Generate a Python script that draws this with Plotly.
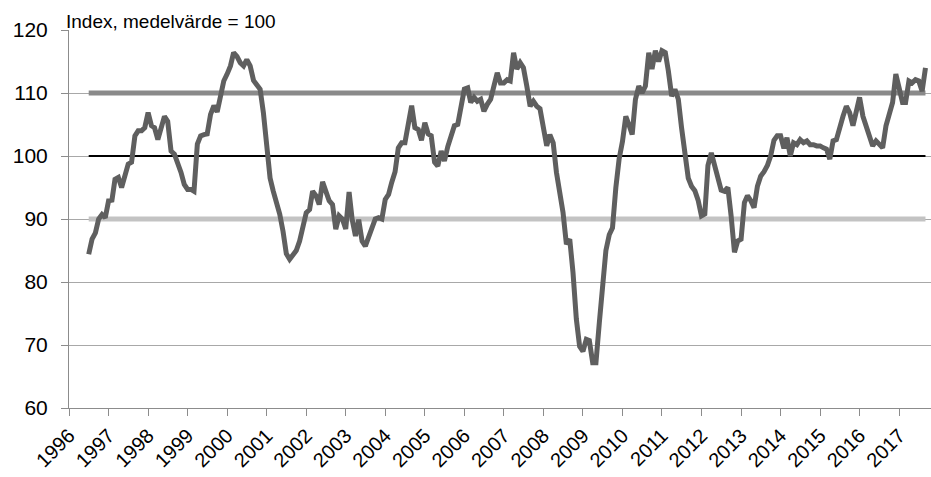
import pandas as pd
import plotly.graph_objects as go

start_month = "1996-07-01"

v1996 = [84.4, 86.8, 87.8, 90.0, 90.7, 90.2]
v1997 = [92.9, 93.0, 96.3, 96.6, 95.0, 97.0, 98.7, 99.0, 103.2, 104.0, 104.0, 104.5]
v1998 = [106.9, 104.8, 104.5, 102.6, 104.8, 106.3, 105.5, 100.8, 100.3, 99.0, 97.4, 95.5]
v1999 = [94.7, 94.7, 94.4, 101.9, 103.2, 103.4, 103.5, 106.6, 108.0, 107.0, 109.3, 111.9]
v2000 = [113.0, 114.3, 116.4, 115.8, 114.8, 114.3, 115.3, 114.3, 112.0, 111.4, 110.6, 106.9]
v2001 = [101.0, 96.5, 94.5, 92.6, 90.8, 88.0, 84.5, 83.6, 84.2, 85.0, 86.5, 89.0]
v2002 = [91.0, 91.5, 94.4, 93.7, 92.3, 95.9, 94.2, 92.9, 92.3, 88.4, 90.5, 90.0]
v2003 = [88.4, 94.3, 90.0, 87.3, 89.9, 86.5, 85.7, 87.2, 89.0, 90.0, 90.2, 90.0]
v2004 = [93.1, 93.9, 95.8, 97.5, 101.3, 102.1, 102.1, 105.3, 108.0, 104.5, 104.2, 102.5]
v2005 = [105.3, 103.5, 103.2, 99.0, 98.4, 100.8, 99.2, 101.5, 103.2, 104.8, 105.0, 108.0]
v2006 = [110.6, 110.8, 108.5, 109.3, 108.7, 109.0, 107.1, 108.2, 109.0, 111.1, 113.2, 111.6]
v2007 = [111.6, 112.1, 111.9, 116.4, 113.8, 114.8, 114.0, 111.1, 107.9, 108.7, 107.9, 107.5]
v2008 = [104.8, 101.6, 103.4, 102.1, 97.4, 94.2, 91.0, 86.0, 86.8, 81.5, 74.1, 69.8]
v2009 = [69.0, 70.9, 70.7, 67.2, 67.2, 73.5, 80.0, 85.0, 87.5, 88.6, 95.0, 99.5]
v2010 = [102.3, 106.3, 105.0, 103.4, 109.0, 111.1, 110.0, 111.1, 116.4, 113.8, 116.7, 115.0]
v2011 = [116.7, 116.4, 113.5, 109.5, 110.6, 109.0, 104.5, 100.0, 96.5, 95.2, 94.5, 93.0]
v2012 = [90.5, 90.8, 98.5, 100.5, 98.5, 96.0, 94.6, 94.4, 95.0, 90.5, 84.7, 86.5]
v2013 = [86.8, 92.6, 93.7, 92.9, 91.8, 95.2, 96.8, 97.5, 98.5, 100.0, 102.5, 103.2]
v2014 = [103.2, 101.2, 102.9, 100.0, 102.1, 101.8, 102.6, 102.1, 102.4, 101.8, 101.8, 101.6]
v2015 = [101.6, 101.3, 101.1, 99.5, 102.4, 102.6, 104.8, 106.3, 107.9, 106.9, 104.8, 107.4]
v2016 = [109.3, 106.3, 104.8, 103.2, 101.6, 102.4, 101.8, 101.3, 104.8, 106.9, 108.5, 113.0]
v2017 = [111.1, 108.5, 108.5, 111.9, 111.6, 112.1, 111.9, 110.3, 114.0]

index_values = (v1996 + v1997 + v1998 + v1999 + v2000 + v2001 + v2002 + v2003 + v2004
                + v2005 + v2006 + v2007 + v2008 + v2009 + v2010 + v2011 + v2012
                + v2013 + v2014 + v2015 + v2016 + v2017)
dates = pd.date_range(start_month, periods=len(index_values), freq="MS")

mean_level = 100
upper_level = 110
lower_level = 90

title_text = "Index, medelvärde = 100"

fig = go.Figure()
fig.add_trace(go.Scatter(x=dates, y=[lower_level] * len(dates), mode="lines",
                         line=dict(color="#c3c3c3", width=5), hoverinfo="skip"))
fig.add_trace(go.Scatter(x=dates, y=[upper_level] * len(dates), mode="lines",
                         line=dict(color="#8a8a8a", width=5), hoverinfo="skip"))
fig.add_trace(go.Scatter(x=dates, y=[mean_level] * len(dates), mode="lines",
                         line=dict(color="#000000", width=2), hoverinfo="skip"))
fig.add_trace(go.Scatter(x=dates, y=index_values, mode="lines",
                         line=dict(color="#5f5f5f", width=5, shape="linear"),
                         cliponaxis=False))

fig.update_layout(
    width=931, height=477,
    margin=dict(l=69, r=0, t=30, b=69, autoexpand=False),
    paper_bgcolor="white", plot_bgcolor="white",
    showlegend=False,
    font=dict(family="Liberation Sans, Arial, sans-serif", color="#000000"),
    annotations=[dict(text=title_text, xref="paper", yref="paper", x=-0.006, y=1.0,
                      xanchor="left", yanchor="bottom", showarrow=False,
                      font=dict(size=19, color="#000000"), yshift=-4)],
)
fig.update_xaxes(
    type="date", automargin=False,
    range=["1996-01-01", "2017-10-22"],
    dtick="M12", tick0="1996-01-01", tickformat="%Y",
    tickangle=-45, tickfont=dict(size=20),
    showgrid=False, showline=True, linecolor="#8c8c8c", linewidth=1,
    ticks="outside", ticklen=7, tickcolor="#8c8c8c",
    zeroline=False,
)
fig.update_yaxes(
    range=[60, 120], dtick=10, tick0=60, automargin=False,
    tickfont=dict(size=21),
    showgrid=True, gridcolor="#a8a8a8", gridwidth=1,
    showline=True, linecolor="#8c8c8c", linewidth=1,
    ticks="outside", ticklen=7, tickcolor="#8c8c8c",
    ticklabelstandoff=9,
    zeroline=False,
)

fig.write_html("out.html", config={"displayModeBar": False},
               post_script="document.body.style.margin='0';document.body.style.overflow='hidden';")
